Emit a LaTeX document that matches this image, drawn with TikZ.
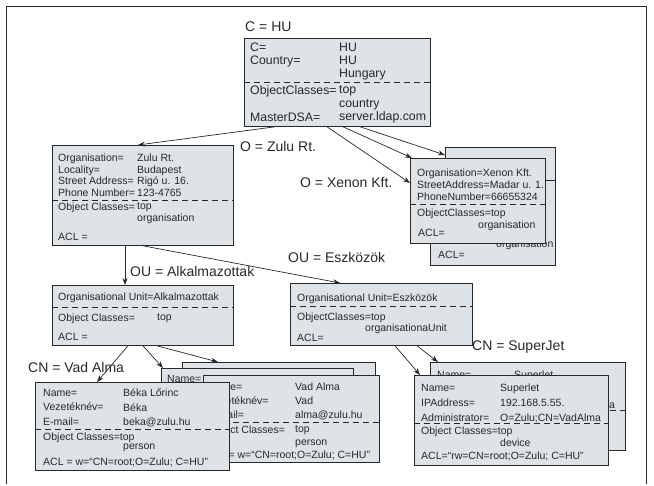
\documentclass[tikz,border=0pt]{standalone}
\usepackage{fontspec}
\setmainfont{Liberation Sans}
\usetikzlibrary{arrows.meta, positioning}
\definecolor{cardfill}{RGB}{221,227,230}
\definecolor{ink}{RGB}{40,40,40}

\begin{document}
\begin{tikzpicture}[x=1pt, y=-1pt,
    card/.style={rectangle, draw=ink, fill=cardfill, line width=0.8pt,
                 inner sep=0pt, anchor=north west},
    txt/.style={inner sep=0pt, anchor=north west, align=left, text=ink,
                font=\fontsize{10.5}{11.5}\selectfont},
    big/.style={inner sep=0pt, anchor=west, text=ink,
                font=\fontsize{14}{16}\selectfont},
    sep/.style={draw=ink, dash pattern=on 6pt off 4pt, line width=0.7pt},
    edge/.style={-{Stealth[length=7pt, width=5pt]}, draw=ink, line width=0.7pt}
]
\useasboundingbox (0,0) rectangle (654,486);
\draw[ink, line width=0.8pt] (6,484) -- (6,6) -- (646,6) -- (646,484);

% root
\node[card, minimum width=186pt, minimum height=88pt] (root) at (244,38) {};
\draw[sep] (root.west |- 0,82) -- (root.east |- 0,82);
\node[txt, font=\fontsize{12.3}{13}\selectfont] (rootk) at (250,42.5) {C=\\Country=};
\node[txt, font=\fontsize{12.3}{13}\selectfont] (rootv) at (339,42.5) {HU\\HU\\Hungary};
\node[txt, font=\fontsize{12.3}{13.5}\selectfont] (rootk2) at (250,85.5) {ObjectClasses=\\\mbox{}\\MasterDSA=};
\node[txt, font=\fontsize{12.3}{13.5}\selectfont] (rootv2) at (339,85.5) {top\\country\\server.ldap.com};

% O = Zulu Rt.
\node[card, minimum width=181pt, minimum height=100pt] (zulu) at (52,145) {};
\draw[sep] (zulu.west |- 0,200) -- (zulu.east |- 0,200);
\node[txt] (zuluk) at (58,154) {Organisation=\\Locality=\\Street Address=\\Phone Number=};
\node[txt] (zuluv) at (137,154) {Zulu Rt.\\Budapest\\Rigó u. 16.\\123-4765};
\node[txt] (zuluk2) at (58,203) {Object Classes=};
\node[txt] (zuluv2) at (137,203) {top\\organisation};
\node[txt] (zuluacl) at (58,233) {ACL =};

% O = Xenon Kft.
\node[card, minimum width=110pt, minimum height=85pt] (xenb) at (445,147) {};
\node[card, minimum width=125pt, minimum height=85pt] (xenm) at (430,180) {};
\node[txt] (xenmv) at (496,240) {organisation};
\node[txt] (xenmacl) at (438,251) {ACL=};
\node[card, minimum width=135pt, minimum height=85pt] (xenf) at (410,158) {};
\draw[sep] (xenf.west |- 0,204) -- (xenf.east |- 0,204);
\node[txt, font=\fontsize{10.5}{12}\selectfont] (xenk) at (417,169) {Organisation=Xenon Kft.\\StreetAddress=Madar u. 1.\\PhoneNumber=66655324};
\node[txt] (xenk2) at (417,209) {ObjectClasses=top};
\node[txt] (xenv2) at (478,221) {organisation};
\node[txt] (xenacl) at (418,229) {ACL=};

% OU = Alkalmazottak
\node[card, minimum width=181pt, minimum height=60pt] (alk) at (52,285) {};
\draw[sep] (alk.west |- 0,307) -- (alk.east |- 0,307);
\node[txt] (alkk) at (58,293) {Organisational Unit=Alkalmazottak};
\node[txt] (alkk2) at (58,314) {Object Classes=};
\node[txt] (alkv2) at (157,314) {top};
\node[txt] (alkacl) at (58,333) {ACL =};

% OU = Eszközök
\node[card, minimum width=182pt, minimum height=62pt] (esz) at (290,283) {};
\draw[sep] (esz.west |- 0,306) -- (esz.east |- 0,306);
\node[txt] (eszk) at (297,294) {Organisational Unit=Eszközök};
\node[txt] (eszk2) at (297,313) {ObjectClasses=top};
\node[txt] (eszv2) at (365,324) {organisationaUnit};
\node[txt] (eszacl) at (297,334) {ACL=};

% CN = Vad Alma
\node[card, minimum width=193pt, minimum height=93pt] (vada) at (182,362) {};
\node[card, minimum width=192pt, minimum height=92pt] (vadb) at (161,368) {};
\node[txt] (vadbk) at (167,375) {Name=};
\node[card, minimum width=176pt, minimum height=87pt] (vadc) at (203,375) {};
\draw[sep] (vadc.west |- 0,422) -- (vadc.east |- 0,422);
\node[txt, font=\fontsize{10.5}{14}\selectfont] (vadck) at (208,383) {Name=\\Vezetéknév=\\E-mail=};
\node[txt, font=\fontsize{10.5}{14}\selectfont] (vadcv) at (295,383) {Vad Alma\\Vad\\alma@zulu.hu};
\node[txt] (vadck2) at (208,426) {Object Classes=};
\node[txt, font=\fontsize{10.5}{13}\selectfont] (vadcv2) at (295,426) {top\\person};
\node[txt] (vadcacl) at (205,451) {ACL = w=“CN=root;O=Zulu; C=HU”};

\node[card, minimum width=194pt, minimum height=88pt] (beka) at (35,382) {};
\draw[sep] (beka.west |- 0,429) -- (beka.east |- 0,429);
\node[txt, font=\fontsize{10.5}{14.5}\selectfont] (bekak) at (43,389) {Name=\\Vezetéknév=\\E-mail=};
\node[txt, font=\fontsize{10.5}{14.5}\selectfont] (bekav) at (123,389) {Béka Lőrinc\\Béka\\beka@zulu.hu};
\node[txt] (bekak2) at (43,433) {Object Classes=top};
\node[txt] (bekav2) at (123,444) {person};
\node[txt] (bekaacl) at (43,458) {ACL = w=“CN=root;O=Zulu; C=HU”};

% CN = SuperJet
\node[card, minimum width=195pt, minimum height=88pt] (sjb) at (430,362) {};
\draw[sep] (sjb.west |- 0,410) -- (sjb.east |- 0,410);
\node[txt] (sjbk) at (437,371) {Name=};
\node[txt] (sjbv) at (514,371) {Superlet};
\node[txt] (sjbv3) at (514,401) {O=Zulu;CN=VadAlma};
\node[card, minimum width=194pt, minimum height=90pt] (sjf) at (414,375) {};
\draw[sep] (sjf.west |- 0,423) -- (sjf.east |- 0,423);
\node[txt, font=\fontsize{10.5}{15}\selectfont] (sjfk) at (421,384) {Name=\\IPAddress=\\Administrator=};
\node[txt, font=\fontsize{10.5}{15}\selectfont] (sjfv) at (500,384) {Superlet\\192.168.5.55.\\O=Zulu;CN=VadAlma};
\node[txt] (sjfk2) at (421,427) {Object Classes=top};
\node[txt] (sjfv2) at (500,439) {device};
\node[txt] (sjfacl) at (421,452) {ACL=“rw=CN=root;O=Zulu; C=HU”};

% labels
\node[big] (lblc) at (245,27) {C = HU};
\node[big] (lblzulu) at (240,146) {O = Zulu Rt.};
\node[big] (lblxen) at (300,183) {O = Xenon Kft.};
\node[big] (lblalk) at (130,271) {OU = Alkalmazottak};
\node[big] (lblesz) at (288,257) {OU = Eszközök};
\node[big] (lblvad) at (28,367) {CN = Vad Alma};
\node[big] (lblsj) at (472,347) {CN = SuperJet};

% edges
\draw[edge] ([xshift=31pt]root.south west) -- ([xshift=86pt]zulu.north west);
\draw[edge] ([xshift=83pt]root.south west) -- ([yshift=-25pt]xenf.north west);
\draw[edge] ([xshift=99pt]root.south west) -- ([xshift=2pt]xenf.north west);
\draw[edge] ([xshift=116pt]root.south west) -- ([yshift=-8pt]xenb.north west);
\draw[edge] ([xshift=73pt]zulu.south west) -- ([xshift=73pt]alk.north west);
\draw[edge] ([xshift=91pt]zulu.south west) -- ([xshift=50pt]esz.north west);
\draw[edge] ([xshift=76pt]alk.south west) -- ([xshift=62pt]beka.north west);
\draw[edge] ([xshift=91pt]alk.south west) -- ([xshift=2pt]vadb.north west);
\draw[edge] ([xshift=105pt]alk.south west) -- ([xshift=36pt]vada.north west);
\draw[edge] ([xshift=105pt]esz.south west) -- ([xshift=6pt]sjf.north west);
\draw[edge] ([xshift=127pt]esz.south west) -- ([xshift=8pt]sjb.north west);
\end{tikzpicture}
\end{document}
